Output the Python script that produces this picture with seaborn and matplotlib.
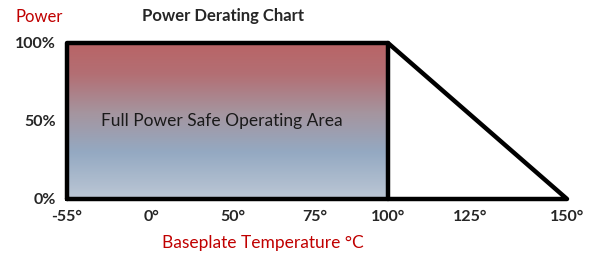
import matplotlib
matplotlib.use("Agg")
import matplotlib.pyplot as plt
from matplotlib.colors import LinearSegmentedColormap
import numpy as np
import pandas as pd
import seaborn as sns

# chart data
temp_ticks = [-55, 0, 50, 75, 100, 125, 150]
power_ticks = [0, 50, 100]
curve_temp = [-55, -55, 100, 150, -55]
curve_power = [0, 100, 100, 0, 0]
safe_temp = [-55, 100]
safe_power = [0, 100]

# schematic (non-linear) axis: where each temperature tick sits
tick_pos = [0, 84, 166, 248, 321, 403, 500]


def to_pos(t):
    return np.interp(t, temp_ticks, tick_pos)


sns.set_theme(style="white")
plt.rcParams["font.family"] = ["Lato", "DejaVu Sans"]

fig = plt.figure(figsize=(5.99, 2.56), dpi=100)
ax = fig.add_axes([67 / 599, 57 / 256, 500 / 599, 156 / 256])

# gradient fill of the safe operating area
cmap = LinearSegmentedColormap.from_list(
    "soa",
    [(0.0, "#bcc7d5"), (0.3, "#94a9c2"), (0.55, "#a5959f"),
     (0.8, "#b36f74"), (1.0, "#b96466")],
)
grad = np.linspace(0, 1, 256).reshape(-1, 1)
ax.imshow(
    grad, cmap=cmap, origin="lower", aspect="auto",
    extent=[to_pos(safe_temp[0]), to_pos(safe_temp[1]), safe_power[0], safe_power[1]],
    zorder=1,
)

outline = pd.DataFrame({"x": to_pos(curve_temp), "y": curve_power})
sns.lineplot(data=outline, x="x", y="y", sort=False, estimator=None,
             color="black", linewidth=3.2, ax=ax, zorder=3, clip_on=False)
divider = pd.DataFrame({"x": to_pos([safe_temp[1], safe_temp[1]]), "y": safe_power})
sns.lineplot(data=divider, x="x", y="y", sort=False, estimator=None,
             color="black", linewidth=3.2, ax=ax, zorder=3, clip_on=False)

ax.set_xlim(0, 500)
ax.set_ylim(0, 100)
ax.set_xticks(tick_pos)
ax.set_xticklabels([f"{t}°" for t in temp_ticks], fontsize=11.5, fontweight="bold")
ax.set_yticks(power_ticks)
ax.set_yticklabels([f"{p}%" for p in power_ticks], fontsize=11.5, fontweight="bold")
ax.tick_params(axis="x", pad=8, length=0)
ax.tick_params(axis="y", pad=8, length=0)
sns.despine(ax=ax, left=True, bottom=True)
ax.set_xlabel("")
ax.set_ylabel("")

ax.text(0.31, 0.5, "Full Power Safe Operating Area", fontsize=12.5,
        ha="center", va="center", color="#1a1a1a", zorder=4,
        transform=ax.transAxes)

fig.text(39 / 599, 1 - 17 / 256, "Power", color="#c00000", fontsize=12,
         ha="center", va="center")
fig.text(223 / 599, 1 - 16 / 256, "Power Derating Chart", fontsize=12,
         fontweight="bold", ha="center", va="center")
fig.text(263 / 599, 1 - 243 / 256, "Baseplate Temperature °C", color="#c00000",
         fontsize=12.5, ha="center", va="center")

fig.savefig("out.png", dpi=100, facecolor="white")
